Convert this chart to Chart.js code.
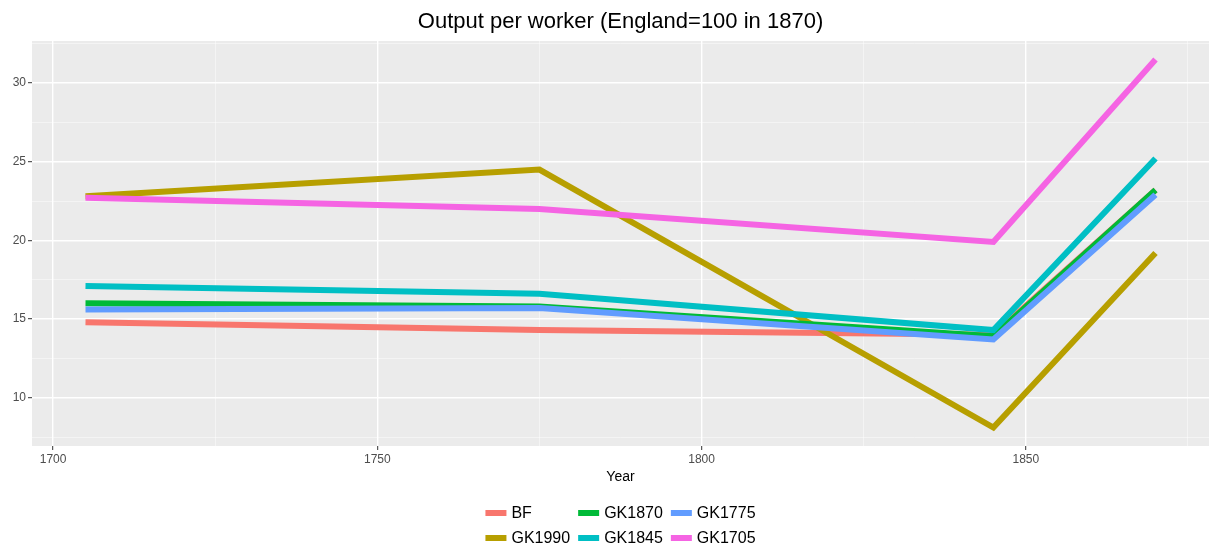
<!DOCTYPE html>
<html lang="en">

<head>
  <meta charset="UTF-8" />
  <title>Output per worker</title>
  <style>
    html, body { margin: 0; padding: 0; background: #fff; }
    #wrap { width: 1209px; height: 550px; }
  </style>
</head>

<body>
  <div id="wrap">
    <canvas id="myChart"></canvas>
  </div>

  <script src="https://cdn.jsdelivr.net/npm/chart.js"></script>
  <script>
    // data
    const years = [1705, 1775, 1845, 1870];
    const names = ["BF", "GK1990", "GK1870", "GK1845", "GK1775", "GK1705"];
    const bf = [14.8, 14.3, 14.0, 23.2];
    const gk1990 = [22.8, 24.5, 8.1, 19.2];
    const gk1870 = [16.0, 15.8, 13.9, 23.2];
    const gk1845 = [17.1, 16.6, 14.3, 25.2];
    const gk1775 = [15.6, 15.7, 13.7, 22.9];
    const gk1705 = [22.7, 22.0, 19.9, 31.5];
    const xTicks = [1700, 1725, 1750, 1775, 1800, 1825, 1850, 1875];
    const yTicks = [7.5, 10, 12.5, 15, 17.5, 20, 22.5, 25, 27.5, 30, 32.5];
    const titleText = "Output per worker (England=100 in 1870)";

    const values = [bf, gk1990, gk1870, gk1845, gk1775, gk1705];
    const colors = ["#F8766D", "#B79F00", "#00BA38", "#00BFC4", "#619CFF", "#F564E3"];
    const FONT = "'Liberation Sans', Arial, sans-serif";

    const datasets = names.map((n, i) => ({
      label: n,
      data: years.map((y, j) => ({ x: y, y: values[i][j] })),
      borderColor: colors[i],
      backgroundColor: colors[i],
      borderWidth: 6,
      pointRadius: 0,
      tension: 0,
      fill: false,
      order: names.length - i, // later levels on top, like ggplot
    }));

    const panelBg = {
      id: "panelBg",
      beforeDraw(chart) {
        const a = chart.chartArea;
        const c = chart.ctx;
        c.save();
        c.fillStyle = "#EBEBEB";
        c.fillRect(a.left, a.top, a.right - a.left, a.bottom - a.top);
        c.restore();
      },
    };

    // title centred over the panel, and a ggplot-like legend (3 columns, filled by column)
    const ggExtras = {
      id: "ggExtras",
      afterDraw(chart) {
        const c = chart.ctx;
        const a = chart.chartArea;
        const mid = (a.left + a.right) / 2;
        c.save();
        c.fillStyle = "#000";
        c.textAlign = "center";
        c.textBaseline = "middle";
        c.font = "22px " + FONT;
        c.fillText(titleText, mid, 22);

        c.textAlign = "left";
        c.font = "16px " + FONT;
        const rows = 2, sw = 21, gap = 5, colGap = 8;
        const cols = [];
        for (let k = 0; k < Math.ceil(names.length / rows); k++) {
          const items = names.slice(k * rows, k * rows + rows);
          const w = Math.max(...items.map((t) => c.measureText(t).width));
          cols.push(sw + gap + w + colGap);
        }
        const total = cols.reduce((s, v) => s + v, 0);
        let x = mid - total / 2 + 4;
        const rowY = [513, 538];
        cols.forEach((cw, k) => {
          for (let r = 0; r < rows; r++) {
            const i = k * rows + r;
            if (i >= names.length) continue;
            c.fillStyle = colors[i];
            c.fillRect(x, rowY[r] - 3, sw, 6);
            c.fillStyle = "#000";
            c.fillText(names[i], x + sw + gap, rowY[r] + 1);
          }
          x += cw;
        });
        c.restore();
      },
    };

    const ctx = document.getElementById("myChart");
    new Chart(ctx, {
      type: "line",
      data: { datasets: datasets },
      options: {
        responsive: true,
        maintainAspectRatio: false,
        animation: false,
        layout: { padding: { left: 0, right: 0, top: 41, bottom: 62 } },
        plugins: {
          legend: { display: false },
          tooltip: { enabled: false },
          title: { display: false },
        },
        scales: {
          x: {
            type: "linear",
            min: 1696.75,
            max: 1878.25,
            afterBuildTicks(s) { s.ticks = xTicks.map((v) => ({ value: v })); },
            afterFit(s) { s.height = 42; },
            border: { display: false },
            grid: {
              color: (cx) => (cx.tick && cx.tick.value % 50 === 0 ? "#fff" : "rgba(255,255,255,0.75)"),
              lineWidth: (cx) => (cx.tick && cx.tick.value % 50 === 0 ? 1.4 : 0.6),
              tickColor: (cx) => (cx.tick && cx.tick.value % 50 === 0 ? "#333" : "rgba(0,0,0,0)"),
              tickLength: 4,
              tickWidth: 1,
            },
            ticks: {
              color: "#4D4D4D",
              font: { size: 12, family: FONT },
              padding: 2,
              maxRotation: 0,
              autoSkip: false,
              callback: (v) => (v % 50 === 0 ? String(v) : ""),
            },
            title: {
              display: true,
              text: "Year",
              color: "#000",
              font: { size: 14, family: FONT },
              padding: { top: 0, bottom: 2 },
            },
          },
          y: {
            type: "linear",
            min: 6.93,
            max: 32.67,
            afterBuildTicks(s) { s.ticks = yTicks.map((v) => ({ value: v })); },
            afterFit(s) { s.width = 32; },
            border: { display: false },
            grid: {
              color: (cx) => (cx.tick && cx.tick.value % 5 === 0 ? "#fff" : "rgba(255,255,255,0.75)"),
              lineWidth: (cx) => (cx.tick && cx.tick.value % 5 === 0 ? 1.4 : 0.6),
              tickColor: (cx) => (cx.tick && cx.tick.value % 5 === 0 ? "#333" : "rgba(0,0,0,0)"),
              tickLength: 4,
              tickWidth: 1,
            },
            ticks: {
              color: "#4D4D4D",
              font: { size: 12, family: FONT },
              padding: 2,
              autoSkip: false,
              callback: (v) => (v % 5 === 0 ? String(v) : ""),
            },
          },
        },
      },
      plugins: [panelBg, ggExtras],
    });
  </script>
</body>

</html>
